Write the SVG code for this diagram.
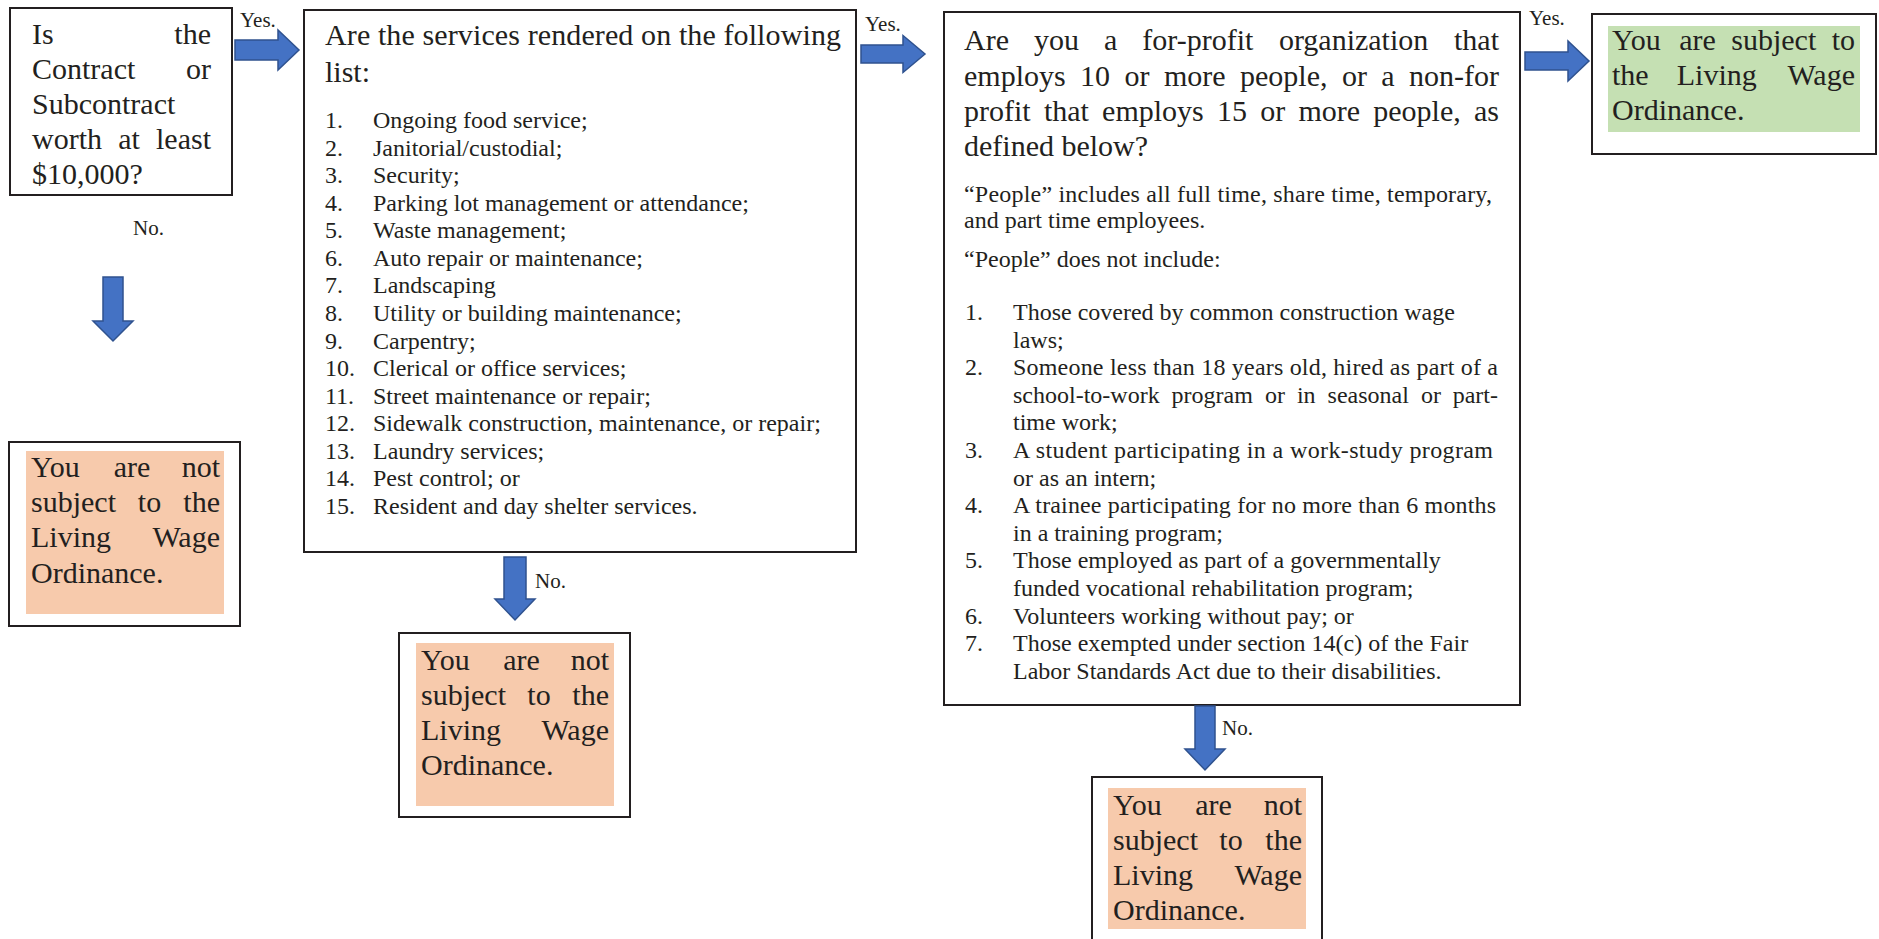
<svg xmlns="http://www.w3.org/2000/svg" width="1879" height="939" viewBox="0 0 1879 939" font-family="'Liberation Serif', 'Times New Roman', serif">
<defs>
<style>
.box{fill:#ffffff;stroke:#231F20;stroke-width:2}
.peach{fill:#F7CAAC;stroke:none}
.green{fill:#C5E0B3;stroke:none}
.arrow{fill:#4472C4;stroke:#2F528F;stroke-width:1.5;stroke-linejoin:miter}
.t30{font-family:"Liberation Serif","Times New Roman",serif;font-size:30px;fill:#231F20}
.t24{font-family:"Liberation Serif","Times New Roman",serif;font-size:24px;fill:#231F20}
.lbl{font-family:"Liberation Serif","Times New Roman",serif;font-size:21px;fill:#231F20}
.e{text-anchor:end}
.m{text-anchor:middle}
</style>
</defs>
<rect width="1879" height="939" fill="#ffffff"/>

<g id="q1">
<rect class="box" x="10" y="8" width="222" height="187"/>
<text class="t30" x="32" y="44">Is</text>
<text class="t30 e" x="211" y="44">the</text>
<text class="t30" x="32" y="79">Contract</text>
<text class="t30 e" x="211" y="79">or</text>
<text class="t30" x="32" y="114">Subcontract</text>
<text class="t30" x="32" y="149">worth</text>
<text class="t30 m" x="129" y="149">at</text>
<text class="t30 e" x="211" y="149">least</text>
<text class="t30" x="32" y="184">$10,000?</text>
</g>

<g id="q2">
<rect class="box" x="304" y="10" width="552" height="542"/>
<text class="t30" x="325" y="45" textLength="516">Are the services rendered on the following</text>
<text class="t30" x="325" y="82">list:</text>
<text class="t24" x="325" y="128">1.</text><text class="t24" x="373" y="128">Ongoing food service;</text>
<text class="t24" x="325" y="155.6">2.</text><text class="t24" x="373" y="155.6">Janitorial/custodial;</text>
<text class="t24" x="325" y="183.1">3.</text><text class="t24" x="373" y="183.1">Security;</text>
<text class="t24" x="325" y="210.7">4.</text><text class="t24" x="373" y="210.7">Parking lot management or attendance;</text>
<text class="t24" x="325" y="238.3">5.</text><text class="t24" x="373" y="238.3">Waste management;</text>
<text class="t24" x="325" y="265.9">6.</text><text class="t24" x="373" y="265.9">Auto repair or maintenance;</text>
<text class="t24" x="325" y="293.4">7.</text><text class="t24" x="373" y="293.4">Landscaping</text>
<text class="t24" x="325" y="321">8.</text><text class="t24" x="373" y="321">Utility or building maintenance;</text>
<text class="t24" x="325" y="348.6">9.</text><text class="t24" x="373" y="348.6">Carpentry;</text>
<text class="t24" x="325" y="376.1">10.</text><text class="t24" x="373" y="376.1">Clerical or office services;</text>
<text class="t24" x="325" y="403.7">11.</text><text class="t24" x="373" y="403.7">Street maintenance or repair;</text>
<text class="t24" x="325" y="431.3">12.</text><text class="t24" x="373" y="431.3">Sidewalk construction, maintenance, or repair;</text>
<text class="t24" x="325" y="458.8">13.</text><text class="t24" x="373" y="458.8">Laundry services;</text>
<text class="t24" x="325" y="486.4">14.</text><text class="t24" x="373" y="486.4">Pest control; or</text>
<text class="t24" x="325" y="514">15.</text><text class="t24" x="373" y="514">Resident and day shelter services.</text>
</g>

<g id="q3">
<rect class="box" x="944" y="12" width="576" height="693"/>
<text class="t30" x="964" y="50">Are</text>
<text class="t30" x="1034" y="50">you</text>
<text class="t30" x="1104" y="50">a</text>
<text class="t30" x="1142.3" y="50">for-profit</text>
<text class="t30" x="1278.9" y="50">organization</text>
<text class="t30 e" x="1499" y="50">that</text>
<text class="t30" x="964" y="86">employs</text>
<text class="t30" x="1080.1" y="86">10</text>
<text class="t30" x="1124.5" y="86">or</text>
<text class="t30" x="1163.9" y="86">more</text>
<text class="t30" x="1240" y="86">people,</text>
<text class="t30" x="1341.9" y="86">or</text>
<text class="t30" x="1381.3" y="86">a</text>
<text class="t30 e" x="1499" y="86">non-for</text>
<text class="t30" x="964" y="121">profit</text>
<text class="t30" x="1043.9" y="121">that</text>
<text class="t30" x="1102.1" y="121">employs</text>
<text class="t30" x="1217" y="121">15</text>
<text class="t30" x="1260.2" y="121">or</text>
<text class="t30" x="1298.4" y="121">more</text>
<text class="t30" x="1373.3" y="121">people,</text>
<text class="t30 e" x="1499" y="121">as</text>
<text class="t30" x="964" y="156">defined below?</text>
<text class="t24" x="964" y="202" textLength="528">“People” includes all full time, share time, temporary,</text>
<text class="t24" x="964" y="228">and part time employees.</text>
<text class="t24" x="964" y="267">“People” does not include:</text>
<text class="t24" x="965" y="320">1.</text><text class="t24" x="1013" y="320">Those covered by common construction wage</text>
<text class="t24" x="1013" y="347.6">laws;</text>
<text class="t24" x="965" y="375.2">2.</text><text class="t24" x="1013" y="375.2" textLength="485">Someone less than 18 years old, hired as part of a</text>
<text class="t24" x="1013" y="402.8">school-to-work</text>
<text class="t24" x="1171.6" y="402.8">program</text>
<text class="t24" x="1264.9" y="402.8">or</text>
<text class="t24" x="1296.9" y="402.8">in</text>
<text class="t24" x="1327.6" y="402.8">seasonal</text>
<text class="t24" x="1420.9" y="402.8">or</text>
<text class="t24 e" x="1498" y="402.8">part-</text>
<text class="t24" x="1013" y="430.4">time work;</text>
<text class="t24" x="965" y="458">3.</text><text class="t24" x="1013" y="458" textLength="480">A student participating in a work-study program</text>
<text class="t24" x="1013" y="485.6">or as an intern;</text>
<text class="t24" x="965" y="513.2">4.</text><text class="t24" x="1013" y="513.2" textLength="483">A trainee participating for no more than 6 months</text>
<text class="t24" x="1013" y="540.8">in a training program;</text>
<text class="t24" x="965" y="568.4">5.</text><text class="t24" x="1013" y="568.4">Those employed as part of a governmentally</text>
<text class="t24" x="1013" y="596">funded vocational rehabilitation program;</text>
<text class="t24" x="965" y="623.6">6.</text><text class="t24" x="1013" y="623.6">Volunteers working without pay; or</text>
<text class="t24" x="965" y="651.2">7.</text><text class="t24" x="1013" y="651.2">Those exempted under section 14(c) of the Fair</text>
<text class="t24" x="1013" y="678.8">Labor Standards Act due to their disabilities.</text>
</g>

<g id="yes-final">
<rect class="box" x="1592" y="14" width="284" height="140"/>
<rect class="green" x="1608" y="26" width="252" height="106"/>
<text class="t30" x="1612" y="50">You</text>
<text class="t30" x="1679.2" y="50">are</text>
<text class="t30" x="1731.3" y="50">subject</text>
<text class="t30 e" x="1855" y="50">to</text>
<text class="t30" x="1612" y="85">the</text>
<text class="t30 m" x="1716.8" y="85">Living</text>
<text class="t30 e" x="1855" y="85">Wage</text>
<text class="t30" x="1612" y="120">Ordinance.</text>
</g>

<g id="no1">
<rect class="box" x="9" y="442" width="231" height="184"/>
<rect class="peach" x="26" y="451" width="198" height="163"/>
<text class="t30" x="31" y="477">You</text>
<text class="t30 m" x="132" y="477">are</text>
<text class="t30 e" x="220" y="477">not</text>
<text class="t30" x="31" y="512">subject</text>
<text class="t30 m" x="149.5" y="512">to</text>
<text class="t30 e" x="220" y="512">the</text>
<text class="t30" x="31" y="547">Living</text>
<text class="t30 e" x="220" y="547">Wage</text>
<text class="t30" x="31" y="583">Ordinance.</text>
</g>

<g id="no2">
<rect class="box" x="399" y="633" width="231" height="184"/>
<rect class="peach" x="416" y="643" width="198" height="163"/>
<text class="t30" x="421" y="670">You</text>
<text class="t30 m" x="521.5" y="670">are</text>
<text class="t30 e" x="609" y="670">not</text>
<text class="t30" x="421" y="705">subject</text>
<text class="t30 m" x="539" y="705">to</text>
<text class="t30 e" x="609" y="705">the</text>
<text class="t30" x="421" y="740">Living</text>
<text class="t30 e" x="609" y="740">Wage</text>
<text class="t30" x="421" y="775">Ordinance.</text>
</g>

<g id="no3">
<rect class="box" x="1092" y="777" width="230" height="175"/>
<rect class="peach" x="1108" y="788" width="198" height="141"/>
<text class="t30" x="1113" y="815">You</text>
<text class="t30 m" x="1213.5" y="815">are</text>
<text class="t30 e" x="1302" y="815">not</text>
<text class="t30" x="1113" y="850">subject</text>
<text class="t30 m" x="1231" y="850">to</text>
<text class="t30 e" x="1302" y="850">the</text>
<text class="t30" x="1113" y="885">Living</text>
<text class="t30 e" x="1302" y="885">Wage</text>
<text class="t30" x="1113" y="920">Ordinance.</text>
</g>

<g id="connectors">
<path class="arrow" d="M235,40 L278,40 L278,30 L299,50 L278,70 L278,60 L235,60 Z"/>
<text class="lbl" x="240" y="27">Yes.</text>
<path class="arrow" d="M861,45 L903,45 L903,35.5 L925,54 L903,72.5 L903,63 L861,63 Z"/>
<text class="lbl" x="865" y="31">Yes.</text>
<path class="arrow" d="M1525,52 L1568,52 L1568,41 L1589,61 L1568,81 L1568,70 L1525,70 Z"/>
<text class="lbl" x="1529" y="25">Yes.</text>
<path class="arrow" d="M103,277 L123,277 L123,321 L133,321 L113,341 L93,321 L103,321 Z"/>
<text class="lbl" x="133" y="235">No.</text>
<path class="arrow" d="M504,557 L526,557 L526,599 L535,599 L515,620 L495,599 L504,599 Z"/>
<text class="lbl" x="535" y="588">No.</text>
<path class="arrow" d="M1195,706 L1215,706 L1215,749 L1225,749 L1205,770 L1185,749 L1195,749 Z"/>
<text class="lbl" x="1222" y="735">No.</text>
</g>
</svg>
